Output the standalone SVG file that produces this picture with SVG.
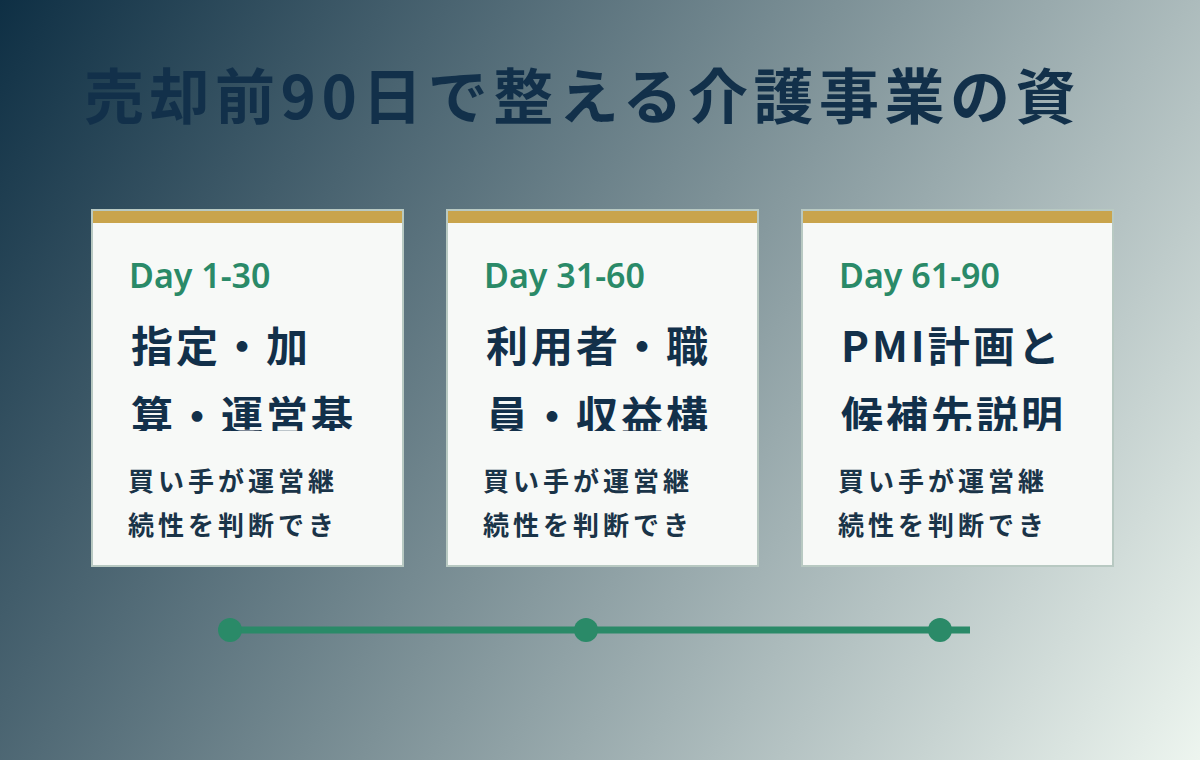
<svg xmlns="http://www.w3.org/2000/svg" width="1200" height="760" viewBox="0 0 1200 760">
  <defs>
    <linearGradient id="bg" gradientUnits="userSpaceOnUse" x1="0" y1="0" x2="1200" y2="760">
      <stop offset="0" stop-color="#0e2f44"/>
      <stop offset="0.5" stop-color="#7d9197"/>
      <stop offset="1" stop-color="#edf5ef"/>
    </linearGradient>
    <clipPath id="clipTitle">
      <rect x="0" y="290" width="1200" height="141"/>
    </clipPath>
    <style>
      .title { font-family: "Noto Sans CJK JP", "Noto Sans", sans-serif; font-weight: 700; font-size: 60px; letter-spacing: 5.5px; fill: #12304a; }
      .card { fill: #f7f9f7; stroke: #b8c9c2; stroke-width: 2; }
      .bar { fill: #c9a44c; }
      .day { font-family: "Noto Sans", "Noto Sans CJK JP", sans-serif; font-weight: 600; font-size: 34px; fill: #2a8a68; }
      .head { font-family: "Noto Sans CJK JP", sans-serif; font-weight: 700; font-size: 42px; letter-spacing: 3px; fill: #12304a; }
      .body { font-family: "Noto Sans CJK JP", sans-serif; font-weight: 700; font-size: 26px; letter-spacing: 4px; fill: #1a3448; }
      .tl { stroke: #2a8a68; stroke-width: 7; fill: none; }
      .dot { fill: #2a8a68; }
    </style>
  </defs>
  <rect x="0" y="0" width="1200" height="760" fill="url(#bg)"/>
  <text class="title" x="84" y="119">売却前90日で整える介護事業の資</text>

  <g id="card1">
    <rect class="card" x="92" y="210" width="311" height="356"/>
    <rect class="bar" x="93" y="211" width="309" height="12"/>
    <text class="day" x="129" y="288">Day 1-30</text>
    <g clip-path="url(#clipTitle)">
      <text class="head" x="131" y="362">指定・加</text>
      <text class="head" x="131" y="432">算・運営基</text>
    </g>
    <text class="body" x="128" y="491">買い手が運営継</text>
    <text class="body" x="128" y="535">続性を判断でき</text>
  </g>

  <g id="card2">
    <rect class="card" x="447" y="210" width="311" height="356"/>
    <rect class="bar" x="448" y="211" width="309" height="12"/>
    <text class="day" x="484" y="288">Day 31-60</text>
    <g clip-path="url(#clipTitle)">
      <text class="head" x="486" y="362">利用者・職</text>
      <text class="head" x="486" y="432">員・収益構</text>
    </g>
    <text class="body" x="483" y="491">買い手が運営継</text>
    <text class="body" x="483" y="535">続性を判断でき</text>
  </g>

  <g id="card3">
    <rect class="card" x="802" y="210" width="311" height="356"/>
    <rect class="bar" x="803" y="211" width="309" height="12"/>
    <text class="day" x="839" y="288">Day 61-90</text>
    <g clip-path="url(#clipTitle)">
      <text class="head" x="841" y="362">PMI計画と</text>
      <text class="head" x="841" y="432">候補先説明</text>
    </g>
    <text class="body" x="838" y="491">買い手が運営継</text>
    <text class="body" x="838" y="535">続性を判断でき</text>
  </g>

  <g id="connectors">
    <line class="tl" x1="230" y1="630" x2="970" y2="630"/>
    <circle class="dot" cx="230" cy="630" r="12"/>
    <circle class="dot" cx="586" cy="630" r="12"/>
    <circle class="dot" cx="940" cy="630" r="12"/>
  </g>
</svg>
